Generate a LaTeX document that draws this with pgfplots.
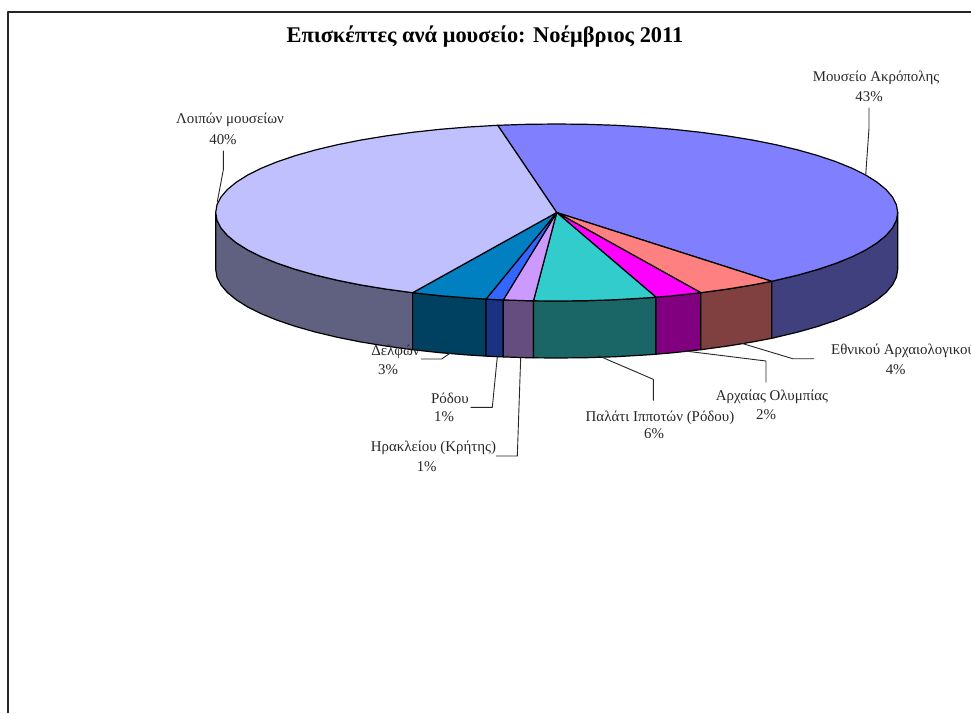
\documentclass[border=0pt]{standalone}
\usepackage{fontspec}
\setmainfont{Liberation Serif}
\usepackage{pgfplots}
\pgfplotsset{compat=1.18}
\definecolor{tA}{HTML}{8080FF}\definecolor{sA}{HTML}{40407F}
\definecolor{tB}{HTML}{FF8080}\definecolor{sB}{HTML}{804040}
\definecolor{tC}{HTML}{FF00FF}\definecolor{sC}{HTML}{800080}
\definecolor{tD}{HTML}{33CCCC}\definecolor{sD}{HTML}{1A6666}
\definecolor{tE}{HTML}{CC99FF}\definecolor{sE}{HTML}{664D80}
\definecolor{tF}{HTML}{3366FF}\definecolor{sF}{HTML}{1A3380}
\definecolor{tG}{HTML}{0080C0}\definecolor{sG}{HTML}{004060}
\definecolor{tH}{HTML}{C0C0FF}\definecolor{sH}{HTML}{606080}
\tikzset{
  lbl/.style={font=\fontsize{14.9}{17}\selectfont, text=black!85, inner sep=0pt},
  lead/.style={draw=black!85, line width=0.9pt},
  slice/.style={draw=black, line width=1.2pt},
}
\begin{document}
\begin{tikzpicture}
\begin{axis}[
  name=ax,
  scale only axis, width=971pt, height=713pt,
  xmin=0, xmax=971, ymin=0, ymax=713, y dir=reverse,
  hide axis, clip=true,
  every axis plot/.append style={no markers, line join=round},
]
% frame
\addplot[draw=black!85, line width=1.6pt] coordinates {(8,713) (8,12) (971,12)};

% side faces
\addplot[slice, fill=sH] coordinates {(412.6,292.7)(386.2,289.1)(361.1,285.0)(337.5,280.3)(315.6,275.1)(295.5,269.4)(277.4,263.3)(261.4,256.8)(247.6,249.9)(236.3,242.8)(227.3,235.4)(220.9,227.9)(217.0,220.2)(215.7,212.5)(215.7,269.5)(217.0,277.2)(220.9,284.9)(227.3,292.4)(236.3,299.8)(247.6,306.9)(261.4,313.8)(277.4,320.3)(295.5,326.4)(315.6,332.1)(337.5,337.3)(361.1,342.0)(386.2,346.1)(412.6,349.7)(412.6,292.7)};
\addplot[slice, fill=sG] coordinates {(412.6,292.7)(440.1,295.7)(468.4,298.0)(486,299.1)(486,356.1)(468.4,355.0)(440.1,352.7)(412.6,349.7)(412.6,292.7)};
\addplot[slice, fill=sF] coordinates {(486,299.1)(497.5,299.7)(503.3,299.9)(503.3,356.9)(497.5,356.7)(486,356.1)(486,299.1)};
\addplot[slice, fill=sE] coordinates {(503.3,299.9)(527.0,300.7)(533.5,300.8)(533.5,357.8)(527.0,357.7)(503.3,356.9)(503.3,299.9)};
\addplot[slice, fill=sD] coordinates {(533.5,300.8)(556.7,301.0)(586.4,300.7)(615.9,299.7)(645.0,298.0)(656,297.2)(656,354.2)(645.0,355.0)(615.9,356.7)(586.4,357.7)(556.7,358.0)(533.5,357.8)(533.5,300.8)};
\addplot[slice, fill=sC] coordinates {(656,297.2)(673.3,295.7)(700.8,292.7)(700.8,349.7)(673.3,352.7)(656,354.2)(656,297.2)};
\addplot[slice, fill=sB] coordinates {(700.8,292.7)(727.2,289.1)(752.3,285.0)(771.7,281.3)(771.7,338.3)(752.3,342.0)(727.2,346.1)(700.8,349.7)(700.8,292.7)};
\addplot[slice, fill=sA] coordinates {(771.7,281.3)(775.9,280.3)(797.8,275.1)(817.9,269.4)(836.0,263.3)(852.0,256.8)(865.8,249.9)(877.1,242.8)(886.1,235.4)(892.5,227.9)(896.4,220.2)(897.7,212.5)(897.7,269.5)(896.4,277.2)(892.5,284.9)(886.1,292.4)(877.1,299.8)(865.8,306.9)(852.0,313.8)(836.0,320.3)(817.9,326.4)(797.8,332.1)(775.9,337.3)(771.7,338.3)(771.7,281.3)};

% top faces
\addplot[slice, fill=tA] coordinates {(556.7,212.5)(497.7,125.3)(527.0,124.3)(556.7,124.0)(586.4,124.3)(615.9,125.3)(645.0,127.0)(673.3,129.3)(700.8,132.3)(727.2,135.9)(752.3,140.0)(775.9,144.7)(797.8,149.9)(817.9,155.6)(836.0,161.7)(852.0,168.2)(865.8,175.1)(877.1,182.2)(886.1,189.6)(892.5,197.1)(896.4,204.8)(897.7,212.5)(896.4,220.2)(892.5,227.9)(886.1,235.4)(877.1,242.8)(865.8,249.9)(852.0,256.8)(836.0,263.3)(817.9,269.4)(797.8,275.1)(775.9,280.3)(771.7,281.3)(556.7,212.5)};
\addplot[slice, fill=tB] coordinates {(556.7,212.5)(771.7,281.3)(752.3,285.0)(727.2,289.1)(700.8,292.7)(556.7,212.5)};
\addplot[slice, fill=tC] coordinates {(556.7,212.5)(700.8,292.7)(673.3,295.7)(656,297.2)(556.7,212.5)};
\addplot[slice, fill=tD] coordinates {(556.7,212.5)(656,297.2)(645.0,298.0)(615.9,299.7)(586.4,300.7)(556.7,301.0)(533.5,300.8)(556.7,212.5)};
\addplot[slice, fill=tE] coordinates {(556.7,212.5)(533.5,300.8)(527.0,300.7)(503.3,299.9)(556.7,212.5)};
\addplot[slice, fill=tF] coordinates {(556.7,212.5)(503.3,299.9)(497.5,299.7)(486,299.1)(556.7,212.5)};
\addplot[slice, fill=tG] coordinates {(556.7,212.5)(486,299.1)(468.4,298.0)(440.1,295.7)(412.6,292.7)(556.7,212.5)};
\addplot[slice, fill=tH] coordinates {(556.7,212.5)(412.6,292.7)(386.2,289.1)(361.1,285.0)(337.5,280.3)(315.6,275.1)(295.5,269.4)(277.4,263.3)(261.4,256.8)(247.6,249.9)(236.3,242.8)(227.3,235.4)(220.9,227.9)(217.0,220.2)(215.7,212.5)(217.0,204.8)(220.9,197.1)(227.3,189.6)(236.3,182.2)(247.6,175.1)(261.4,168.2)(277.4,161.7)(295.5,155.6)(315.6,149.9)(337.5,144.7)(361.1,140.0)(386.2,135.9)(412.6,132.3)(440.1,129.3)(468.4,127.0)(497.7,125.3)(556.7,212.5)};

% leader lines
\addplot[lead] coordinates {(223.3,150.7)(223.3,170)(217.3,201.7)};
\addplot[lead] coordinates {(869,107.7)(869,128.3)(865.7,175)};
\addplot[lead] coordinates {(421,359)(441.7,359)(450.7,352.7)};
\addplot[lead] coordinates {(470.7,407.3)(492.3,407.3)(497.3,356.7)};
\addplot[lead] coordinates {(496,456)(517.3,456)(520.7,357.3)};
\addplot[lead] coordinates {(653.3,400.7)(653.3,379.3)(598.3,355.7)};
\addplot[lead] coordinates {(766,382.3)(766,361)(685,351)};
\addplot[lead] coordinates {(814,358.7)(792.7,358.7)(741.7,343.3)};

% texts
\node[font=\fontsize{22.4}{26}\selectfont\bfseries, text=black, inner sep=0pt] at (axis cs:485,36.5) {Επισκέπτες ανά μουσείο: Νοέμβριος 2011};
\node[lbl] at (axis cs:876,78) {Μουσείο Ακρόπολης};
\node[lbl] at (axis cs:869,97) {43\%};
\node[lbl] at (axis cs:230,120) {Λοιπών μουσείων};
\node[lbl] at (axis cs:223,139.5) {40\%};
\node[lbl] at (axis cs:395.5,352) {Δελφών};
\node[lbl] at (axis cs:388,369.5) {3\%};
\node[lbl] at (axis cs:450,398.5) {Ρόδου};
\node[lbl] at (axis cs:444,417) {1\%};
\node[lbl] at (axis cs:433.5,448) {Ηρακλείου (Κρήτης)};
\node[lbl] at (axis cs:426.7,467) {1\%};
\node[lbl] at (axis cs:660,418) {Παλάτι Ιπποτών (Ρόδου)};
\node[lbl] at (axis cs:654,433.5) {6\%};
\node[lbl] at (axis cs:772,397) {Αρχαίας Ολυμπίας};
\node[lbl] at (axis cs:766,415) {2\%};
\node[lbl, anchor=west] at (axis cs:831,351) {Εθνικού Αρχαιολογικού};
\node[lbl] at (axis cs:895.7,369.3) {4\%};
\end{axis}
\pgfresetboundingbox
\useasboundingbox (ax.south west) rectangle (ax.north east);
\end{tikzpicture}
\end{document}
